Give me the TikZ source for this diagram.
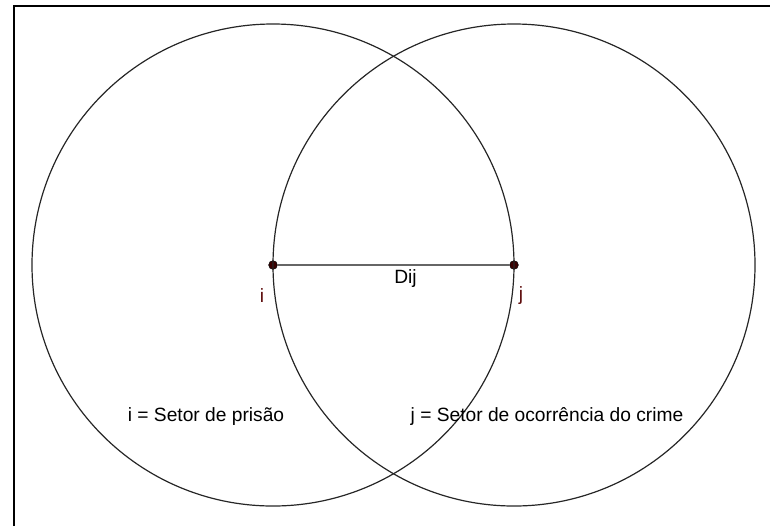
\documentclass[tikz,border=0pt]{standalone}
\usepackage{fontspec}
\setmainfont{Liberation Sans}
\definecolor{ptred}{HTML}{3A0000}
\definecolor{lblred}{HTML}{5C0A0A}
\definecolor{circgray}{HTML}{262626}
\begin{document}
\begin{tikzpicture}[x=0.75pt, y=-0.75pt,
    point/.style = {circle, fill=ptred, draw=black, line width=0.4pt, inner sep=0pt, minimum size=6.5pt},
    ring/.style = {draw=circgray, line width=0.9pt},
    lbl/.style = {font=\fontsize{14.4}{16}\selectfont, anchor=base, inner sep=0pt}]
    \useasboundingbox (0,0) rectangle (770,526);

    % Frame
    \draw[black, line width=1.6pt] (14,526) -- (14,6) -- (770,6);

    % Points
    \node[point] (i) at (273,265) {};
    \node[point] (j) at (514,265) {};

    % Circles and segment
    \draw[ring] (i.center) circle[radius=241];
    \draw[ring] (j.center) circle[radius=241];
    \draw[gray!80!black, line width=0.8pt] (i) -- (j);

    % Labels
    \node[lbl] (dij) at (405.5,283) {Dij};
    \node[lbl, text=lblred] (ilbl) at (262,302) {i};
    \node[lbl, text=lblred] (jlbl) at (521,300) {j};
    \node[lbl] (itext) at (206,421) {i = Setor de prisão};
    \node[lbl] (jtext) at (547,421) {j = Setor de ocorrência do crime};
\end{tikzpicture}
\end{document}
